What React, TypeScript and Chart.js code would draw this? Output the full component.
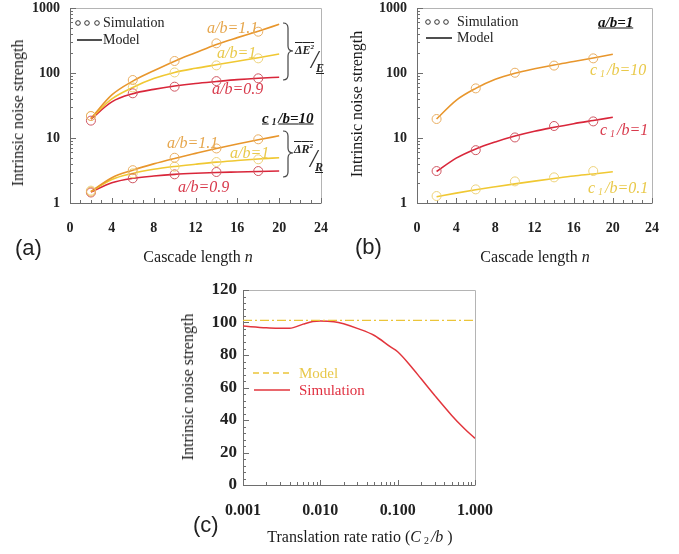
import React, { useEffect, useRef } from "react";
import { Chart, registerables } from "chart.js";
Chart.register(...registerables);

// ---------------- data ----------------
const nModel = [2, 4, 6, 8, 10, 12, 14, 16, 18, 20];
const nSim = [2, 6, 10, 14, 18];

// panel (a): upper group (ΔE²/E), lower group (ΔR²/R)
const aE11Model = [20, 46, 75, 108, 152, 205, 275, 350, 440, 561];
const aE11Sim = [21.8, 78, 153, 286, 432];
const aE10Model = [20, 40, 60, 82, 102, 118, 134, 152, 172, 196];
const aE10Sim = [21.8, 60, 102, 131, 168];
const aE09Model = [19.5, 36, 48, 56, 63, 69, 74, 79, 83, 86];
const aE09Sim = [18.5, 48.7, 61.6, 75, 82.8];
const aR11Model = [1.5, 2.45, 3.2, 4.0, 4.85, 5.8, 6.9, 8.1, 9.4, 10.8];
const aR11Sim = [1.49, 3.2, 4.97, 6.9, 9.55];
const aR10Model = [1.5, 2.3, 2.85, 3.3, 3.65, 3.95, 4.25, 4.5, 4.75, 4.97];
const aR10Sim = [1.55, 2.86, 3.62, 4.27, 4.7];
const aR09Model = [1.48, 2.05, 2.4, 2.6, 2.76, 2.87, 2.95, 3.0, 3.05, 3.1];
const aR09Sim = [1.45, 2.4, 2.76, 3.0, 3.1];

// panel (b): a/b = 1
const bC10Model = [19.6, 38, 58, 80, 99, 116, 133, 150, 170, 194];
const bC10Sim = [19.6, 58, 101, 130, 168];
const bC1Model = [3.05, 4.9, 6.8, 8.7, 10.7, 12.7, 14.6, 16.6, 18.6, 20.8];
const bC1Sim = [3.1, 6.5, 10.2, 15.3, 18];
const bC01Model = [1.25, 1.42, 1.6, 1.78, 1.97, 2.17, 2.38, 2.6, 2.8, 3.03];
const bC01Sim = [1.28, 1.62, 2.15, 2.48, 3.1];

// panel (c)
const cRatio = [0.001, 0.002, 0.003, 0.004, 0.006, 0.008, 0.01, 0.015, 0.02, 0.03, 0.05, 0.08, 0.1, 0.15, 0.2, 0.3, 0.5, 0.7, 1.0];
const cSimulation = [97.8, 96.8, 96.4, 96.4, 99.0, 100.6, 101.0, 100.5, 99.2, 96.4, 92.0, 85.1, 82.0, 72.8, 65.5, 55.2, 42.8, 35.5, 28.7];
const cModelRatio = [0.001, 1.0];
const cModel = [101.3, 101.3];

// tick labels
const cascadeTicks = [0, 4, 8, 12, 16, 20, 24];
const noiseLogTicks = [1, 10, 100, 1000];
const cYTicks = [0, 20, 40, 60, 80, 100, 120];
const cXTicks = [0.001, 0.01, 0.1, 1];

// ---------------- styles ----------------
const SERIF = "'Liberation Serif', 'Times New Roman', Times, serif";
const SANS = "'Liberation Sans', Arial, sans-serif";
const ORANGE = "#E8962C";
const ORANGE_PT = "#E9AE62";
const ORANGE_TXT = "#E6A64C";
const YELLOW = "#F0C832";
const YELLOW_PT = "#EDD27A";
const YELLOW_TXT = "#E9C94A";
const RED = "#D9263A";
const RED_PT = "#CF5560";
const RED_TXT = "#D83A4C";
const C_RED = "#E2353C";
const C_MODEL = "#EBC53A";

const pairs = (xs: number[], ys: number[]) => xs.map((x, i) => ({ x, y: ys[i] }));

const modelLine = (xs: number[], ys: number[], color: string) => ({
  data: pairs(xs, ys),
  borderColor: color,
  borderWidth: 1.6,
  pointRadius: 0,
  fill: false,
  cubicInterpolationMode: "monotone",
});
const simPoints = (xs: number[], ys: number[], color: string) => ({
  data: pairs(xs, ys),
  showLine: false,
  borderColor: color,
  backgroundColor: "rgba(0,0,0,0)",
  pointRadius: 4.5,
  pointBorderWidth: 1,
  pointBorderColor: color,
  pointBackgroundColor: "rgba(0,0,0,0)",
});

type TickSpec = { axis: "x" | "y"; value: number; len: number };

function linTicks(axis: "x" | "y", from: number, to: number, step: number, majorEvery: number, minor: number, major: number): TickSpec[] {
  const out: TickSpec[] = [];
  let i = 0;
  for (let v = from; v <= to + 1e-9; v += step, i++) out.push({ axis, value: v, len: i % majorEvery === 0 ? major : minor });
  return out;
}
function logTicksSpec(axis: "x" | "y", d0: number, d1: number, minor: number, major: number): TickSpec[] {
  const out: TickSpec[] = [];
  for (let d = d0; d < d1; d++) for (let k = 1; k <= 9; k++) out.push({ axis, value: k * Math.pow(10, d), len: k === 1 ? major : minor });
  out.push({ axis, value: Math.pow(10, d1), len: major });
  return out;
}

function framePlugin(ticks: TickSpec[], extras?: (ctx: CanvasRenderingContext2D) => void) {
  return {
    id: "frameTicks",
    beforeDatasetsDraw(chart: any) {
      const { ctx, chartArea: a, scales } = chart;
      ctx.save();
      ctx.lineWidth = 1;
      ctx.strokeStyle = "#b4b4b4";
      ctx.beginPath();
      ctx.moveTo(a.left, Math.round(a.top) + 0.5);
      ctx.lineTo(Math.round(a.right) + 0.5, Math.round(a.top) + 0.5);
      ctx.lineTo(Math.round(a.right) + 0.5, a.bottom);
      ctx.stroke();
      ctx.strokeStyle = "#6e6e6e";
      ctx.beginPath();
      ctx.moveTo(Math.round(a.left) + 0.5, a.top);
      ctx.lineTo(Math.round(a.left) + 0.5, Math.round(a.bottom) + 0.5);
      ctx.lineTo(Math.round(a.right) + 0.5, Math.round(a.bottom) + 0.5);
      for (const t of ticks) {
        if (t.axis === "x") {
          const px = Math.round(scales.x.getPixelForValue(t.value)) + 0.5;
          ctx.moveTo(px, a.bottom);
          ctx.lineTo(px, a.bottom - t.len);
        } else {
          const py = Math.round(scales.y.getPixelForValue(t.value)) + 0.5;
          ctx.moveTo(a.left, py);
          ctx.lineTo(a.left + t.len, py);
        }
      }
      ctx.stroke();
      ctx.restore();
    },
    afterDraw(chart: any) {
      if (extras) {
        chart.ctx.save();
        extras(chart.ctx);
        chart.ctx.restore();
      }
    },
  };
}

function drawBrace(ctx: CanvasRenderingContext2D, x: number, y1: number, y2: number, ym: number, w: number) {
  const r = 5;
  const xm = x + w / 2;
  ctx.strokeStyle = "#444";
  ctx.lineWidth = 1.2;
  ctx.beginPath();
  ctx.moveTo(x, y1);
  ctx.quadraticCurveTo(xm, y1, xm, y1 + r);
  ctx.lineTo(xm, ym - r);
  ctx.quadraticCurveTo(xm, ym, x + w, ym);
  ctx.quadraticCurveTo(xm, ym, xm, ym + r);
  ctx.lineTo(xm, y2 - r);
  ctx.quadraticCurveTo(xm, y2, x, y2);
  ctx.stroke();
}

function drawSimModelLegend(ctx: CanvasRenderingContext2D, cx: number[], cy: number, lx1: number, lx2: number, ly: number) {
  ctx.strokeStyle = "#333";
  ctx.lineWidth = 1;
  for (const x of cx) {
    ctx.beginPath();
    ctx.arc(x, cy, 2.3, 0, Math.PI * 2);
    ctx.stroke();
  }
  ctx.strokeStyle = "#222";
  ctx.lineWidth = 1.6;
  ctx.beginPath();
  ctx.moveTo(lx1, ly);
  ctx.lineTo(lx2, ly);
  ctx.stroke();
}

const tickFont = (size: number) => ({ family: SERIF, size, weight: "bold" as const });

const zeroPad = (s: any) => {
  s.paddingTop = 0;
  s.paddingBottom = 0;
  s.paddingLeft = 0;
  s.paddingRight = 0;
};

function cascadeConfig(datasets: any[], areaLeft: number, areaRight: number, width: number, height: number, plugin: any) {
  return {
    type: "line",
    data: { datasets },
    options: {
      responsive: false,
      maintainAspectRatio: false,
      animation: false,
      events: [],
      layout: { padding: { left: 0, top: 8, right: width - areaRight, bottom: 0 } },
      plugins: { legend: { display: false }, tooltip: { enabled: false } },
      scales: {
        x: {
          type: "linear",
          min: 0,
          max: 24,
          grid: { display: false, drawTicks: false },
          border: { display: false },
          afterBuildTicks: (s: any) => {
            s.ticks = cascadeTicks.map((v) => ({ value: v }));
          },
          afterFit: (s: any) => {
            s.height = height - 203;
            zeroPad(s);
          },
          ticks: { padding: 17, color: "#222", font: tickFont(14), maxRotation: 0, autoSkip: false },
        },
        y: {
          type: "logarithmic",
          min: 1,
          max: 1000,
          grid: { display: false, drawTicks: false },
          border: { display: false },
          afterBuildTicks: (s: any) => {
            s.ticks = noiseLogTicks.map((v) => ({ value: v }));
          },
          afterFit: (s: any) => {
            s.width = areaLeft;
            zeroPad(s);
          },
          ticks: { padding: 10, color: "#222", font: tickFont(14), callback: (v: any) => String(v) },
        },
      },
    },
    plugins: [plugin],
  };
}

function buildA() {
  const ticks = [...linTicks("x", 0, 24, 1, 4, 3, 5), ...logTicksSpec("y", 0, 3, 3, 6)];
  const plugin = framePlugin(ticks, (ctx) => {
    drawSimModelLegend(ctx, [78, 87, 97], 23, 77, 102, 40);
    drawBrace(ctx, 283, 23, 80, 51, 10);
    drawBrace(ctx, 283, 131, 177, 153, 10);
  });
  const datasets = [
    simPoints(nSim, aE11Sim, ORANGE_PT),
    simPoints(nSim, aE10Sim, YELLOW_PT),
    simPoints(nSim, aE09Sim, RED_PT),
    simPoints(nSim, aR11Sim, ORANGE_PT),
    simPoints(nSim, aR10Sim, YELLOW_PT),
    simPoints(nSim, aR09Sim, RED_PT),
    modelLine(nModel, aE11Model, ORANGE),
    modelLine(nModel, aE10Model, YELLOW),
    modelLine(nModel, aE09Model, RED),
    modelLine(nModel, aR11Model, ORANGE),
    modelLine(nModel, aR10Model, YELLOW),
    modelLine(nModel, aR09Model, RED),
  ];
  return cascadeConfig(datasets, 70, 321, 340, 275, plugin);
}

function buildB() {
  const ticks = [...linTicks("x", 0, 24, 1, 4, 3, 5), ...logTicksSpec("y", 0, 3, 3, 6)];
  const plugin = framePlugin(ticks, (ctx) => {
    drawSimModelLegend(ctx, [88, 97, 106], 22, 86, 112, 38);
  });
  const datasets = [
    simPoints(nSim, bC10Sim, ORANGE_PT),
    simPoints(nSim, bC1Sim, RED_PT),
    simPoints(nSim, bC01Sim, YELLOW_PT),
    modelLine(nModel, bC10Model, ORANGE),
    modelLine(nModel, bC1Model, RED),
    modelLine(nModel, bC01Model, YELLOW),
  ];
  return cascadeConfig(datasets, 77, 312, 339, 275, plugin);
}

function buildC() {
  const width = 340;
  const height = 274;
  const ticks = [...logTicksSpec("x", -3, 0, 3, 5), ...linTicks("y", 0, 120, 4, 5, 3, 6)];
  const plugin = framePlugin(ticks, (ctx) => {
    ctx.lineWidth = 1.5;
    ctx.strokeStyle = C_MODEL;
    ctx.setLineDash([6, 4]);
    ctx.beginPath();
    ctx.moveTo(83, 93);
    ctx.lineTo(119, 93);
    ctx.stroke();
    ctx.setLineDash([]);
    ctx.strokeStyle = C_RED;
    ctx.beginPath();
    ctx.moveTo(84, 110);
    ctx.lineTo(120, 110);
    ctx.stroke();
  });
  return {
    type: "line",
    data: {
      datasets: [
        {
          data: pairs(cModelRatio, cModel),
          borderColor: C_MODEL,
          borderWidth: 1.3,
          borderDash: [9, 3, 2, 3],
          pointRadius: 0,
          fill: false,
        },
        {
          data: pairs(cRatio, cSimulation),
          borderColor: C_RED,
          borderWidth: 1.5,
          pointRadius: 0,
          fill: false,
          cubicInterpolationMode: "monotone",
        },
      ],
    },
    options: {
      responsive: false,
      maintainAspectRatio: false,
      animation: false,
      events: [],
      layout: { padding: { left: 0, top: 10, right: width - 305, bottom: 0 } },
      plugins: { legend: { display: false }, tooltip: { enabled: false } },
      scales: {
        x: {
          type: "logarithmic",
          min: 0.001,
          max: 1,
          grid: { display: false, drawTicks: false },
          border: { display: false },
          afterBuildTicks: (s: any) => {
            s.ticks = cXTicks.map((v) => ({ value: v }));
          },
          afterFit: (s: any) => {
            s.height = height - 205;
            zeroPad(s);
          },
          ticks: { padding: 16, color: "#222", font: tickFont(16), maxRotation: 0, autoSkip: false, callback: (v: any) => Number(v).toFixed(3) },
        },
        y: {
          type: "linear",
          min: 0,
          max: 120,
          grid: { display: false, drawTicks: false },
          border: { display: false },
          afterBuildTicks: (s: any) => {
            s.ticks = cYTicks.map((v) => ({ value: v }));
          },
          afterFit: (s: any) => {
            s.width = 73;
            zeroPad(s);
          },
          ticks: { padding: 6, color: "#222", font: tickFont(17) },
        },
      },
    },
    plugins: [plugin],
  };
}

function ChartCanvas({ left, top, width, height, build }: any) {
  const ref = useRef<HTMLCanvasElement>(null);
  useEffect(() => {
    const chart = new Chart(ref.current as HTMLCanvasElement, build() as any);
    return () => chart.destroy();
  }, []);
  return <canvas ref={ref} width={width} height={height} style={{ position: "absolute", left, top, width, height }} />;
}

function T({ x, y, children, style, center, vertical }: any) {
  let transform = "translateY(-50%)";
  if (center) transform = "translate(-50%,-50%)";
  if (vertical) transform = "translate(-50%,-50%) rotate(-90deg)";
  return (
    <div
      style={{
        position: "absolute",
        left: x,
        top: y,
        transform,
        whiteSpace: "nowrap",
        lineHeight: 1,
        fontFamily: SERIF,
        fontSize: 15,
        color: "#222",
        ...style,
      }}
    >
      {children}
    </div>
  );
}

const Sub1 = ({ n }: any) => (
  <span style={{ fontSize: "0.62em", position: "relative", top: "0.25em", margin: "0 2px 0 3px" }}>{n}</span>
);

function CLabel({ x, y, value, color, style }: any) {
  return (
    <T x={x} y={y} style={{ fontStyle: "italic", fontSize: 16, color, ...style }}>
      c<Sub1 n="1" />/b={value}
    </T>
  );
}

function Frac({ x, y, sym }: any) {
  return (
    <>
      <T x={x} y={y} style={{ fontSize: 12, fontWeight: "bold", fontStyle: "italic", textDecoration: "overline" }}>
        Δ{sym}
        <sup style={{ fontSize: 7 }}>2</sup>
      </T>
      <T x={x + 16} y={y + 10} style={{ fontSize: 26, fontStyle: "italic", color: "#333" }}>
        /
      </T>
      <T x={x + 21} y={y + 18} style={{ fontSize: 12, fontWeight: "bold", fontStyle: "italic", textDecoration: "underline" }}>
        {sym}
      </T>
    </>
  );
}

const labelStyle = { fontStyle: "italic", fontSize: 16 };
const titleStyle = { fontSize: 16, color: "#1a1a1a" };

export default function App() {
  return (
    <div
      style={{
        position: "absolute",
        left: 0,
        top: 0,
        width: 679,
        height: 554,
        background: "#fff",
        overflow: "hidden",
        fontFamily: SERIF,
      }}
    >
      <ChartCanvas left={0} top={0} width={340} height={275} build={buildA} />
      <ChartCanvas left={340} top={0} width={339} height={275} build={buildB} />
      <ChartCanvas left={170} top={280} width={340} height={274} build={buildC} />

      {/* panel (a) */}
      <T x={18} y={113} vertical style={titleStyle}>Intrinsic noise strength</T>
      <T x={198} y={257} center style={titleStyle}>
        Cascade length <i>n</i>
      </T>
      <T x={15} y={248} style={{ fontFamily: SANS, fontSize: 22 }}>(a)</T>
      <T x={103} y={23} style={{ fontSize: 14 }}>Simulation</T>
      <T x={103} y={40} style={{ fontSize: 14 }}>Model</T>
      <T x={207} y={28} style={{ ...labelStyle, color: ORANGE_TXT }}>a/b=1.1</T>
      <T x={217} y={53} style={{ ...labelStyle, color: YELLOW_TXT }}>a/b=1</T>
      <T x={212} y={89} style={{ ...labelStyle, color: RED_TXT }}>a/b=0.9</T>
      <T x={167} y={143} style={{ ...labelStyle, color: ORANGE_TXT }}>a/b=1.1</T>
      <T x={230} y={153} style={{ ...labelStyle, color: YELLOW_TXT }}>a/b=1</T>
      <T x={178} y={187} style={{ ...labelStyle, color: RED_TXT }}>a/b=0.9</T>
      <CLabel x={262} y={118} value="10" color="#111" style={{ fontWeight: "bold", fontSize: 15, textDecoration: "underline" }} />
      <Frac x={295} y={50} sym="E" />
      <Frac x={294} y={149} sym="R" />

      {/* panel (b) */}
      <T x={357} y={104} vertical style={titleStyle}>Intrinsic noise strength</T>
      <T x={535} y={257} center style={titleStyle}>
        Cascade length <i>n</i>
      </T>
      <T x={355} y={247} style={{ fontFamily: SANS, fontSize: 22 }}>(b)</T>
      <T x={457} y={22} style={{ fontSize: 14 }}>Simulation</T>
      <T x={457} y={38} style={{ fontSize: 14 }}>Model</T>
      <T x={598} y={22} style={{ fontStyle: "italic", fontWeight: "bold", textDecoration: "underline", color: "#111" }}>a/b=1</T>
      <CLabel x={590} y={70} value="10" color={YELLOW_TXT} />
      <CLabel x={600} y={130} value="1" color={RED_TXT} />
      <CLabel x={588} y={188} value="0.1" color={YELLOW_TXT} />

      {/* panel (c) */}
      <T x={188} y={387} vertical style={titleStyle}>Intrinsic noise strength</T>
      <T x={360} y={537} center style={titleStyle}>
        Translation rate ratio (<i>C</i>
        <Sub1 n="2" />
        <i>/b</i> )
      </T>
      <T x={193} y={525} style={{ fontFamily: SANS, fontSize: 22 }}>(c)</T>
      <T x={299} y={373} style={{ fontSize: 15, color: "#E8C84A" }}>Model</T>
      <T x={299} y={390} style={{ fontSize: 15, color: "#E03040" }}>Simulation</T>
    </div>
  );
}
